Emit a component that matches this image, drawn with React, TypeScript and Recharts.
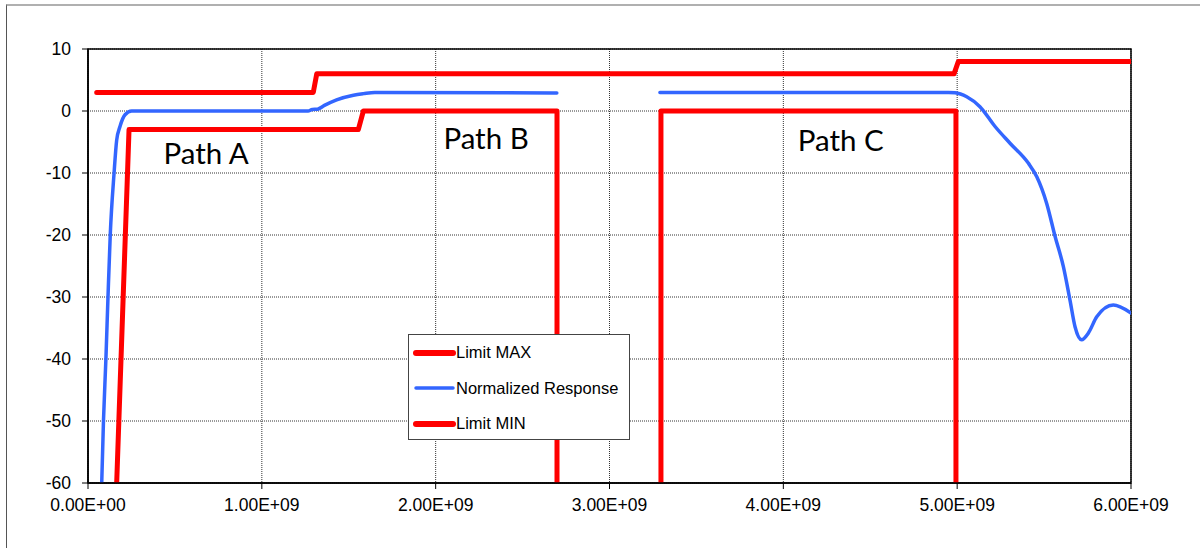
import {
  LineChart,
  Line,
  XAxis,
  YAxis,
  CartesianGrid,
  Legend,
  ReferenceArea,
  ReferenceDot,
} from "recharts";

// x values are in units of 1e9
const limitMaxX = [0.05, 1.296, 1.316, 4.982, 5.007, 6.0];
const limitMaxY = [3, 3, 6, 6, 8, 8];

const limitMinX = [0.165, 0.236, 1.555, 1.584, 2.698, 2.698, 3.0, 3.296, 3.296, 4.993, 4.993];
const limitMinY: (number | null)[] = [-60, -3, -3, 0, 0, -60, null, -60, 0, 0, -60];

const responseX = [
  0.079, 0.089, 0.103, 0.115, 0.128, 0.15, 0.165, 0.184, 0.213, 0.251,
  1.266, 1.29, 1.32, 1.36, 1.43, 1.527, 1.585, 1.65, 2.697,
  3.0,
  3.29, 4.95, 4.988, 5.055, 5.131, 5.218, 5.304, 5.409, 5.458, 5.515,
  5.563, 5.611, 5.649, 5.678, 5.716, 5.755, 5.803, 5.898, 6.0,
];
const responseY: (number | null)[] = [
  -60, -50, -40, -30, -20, -10, -4.7, -2.5, -0.6, 0,
  0, 0.25, 0.3, 0.9, 1.8, 2.55, 2.8, 3.0, 2.9,
  null,
  3, 3, 2.95, 2.3, 0.7, -2.5, -5.2, -8.4, -10.6, -14.9,
  -20.2, -25.1, -30.5, -34.8, -36.9, -35.8, -33.2, -31.3, -32.6,
];

const xTicks = [0, 1, 2, 3, 4, 5, 6].map((v) => v * 1e9);
const yTicks = [10, 0, -10, -20, -30, -40, -50, -60];

const seriesOrder = ["Limit MAX", "Normalized Response", "Limit MIN"];

const pathLabels = [
  { text: "Path A", x: 0.68, y: -6.8 },
  { text: "Path B", x: 2.29, y: -4.4 },
  { text: "Path C", x: 4.33, y: -4.8 },
];

const toRows = (xs: number[], ys: (number | null)[]) =>
  xs.map((x, i) => ({ x: x * 1e9, y: ys[i] }));

const limitMax = toRows(limitMaxX, limitMaxY);
const limitMin = toRows(limitMinX, limitMinY);
const response = toRows(responseX, responseY);

const tickFont = "'Liberation Sans', Arial, sans-serif";

function formatSci(v: number): string {
  const [m, e] = v.toExponential(2).split("e");
  const exp = Number(e);
  const sign = exp < 0 ? "-" : "+";
  return `${m}E${sign}${String(Math.abs(exp)).padStart(2, "0")}`;
}

const legendWidths: Record<string, number> = {
  "Limit MAX": 6,
  "Normalized Response": 3.5,
  "Limit MIN": 6,
};

function LegendBox({ payload }: any) {
  const items = [...(payload || [])].sort(
    (a: any, b: any) => seriesOrder.indexOf(a.value) - seriesOrder.indexOf(b.value)
  );
  return (
    <div
      style={{
        boxSizing: "border-box",
        width: 222,
        height: 106,
        background: "#fff",
        border: "1px solid #444",
        fontFamily: tickFont,
        fontSize: 16.5,
        color: "#000",
      }}
    >
      {items.map((p: any) => (
        <div
          key={p.value}
          style={{ display: "flex", alignItems: "center", height: 35.5 }}
        >
          <svg width={47} height={10} style={{ flexShrink: 0 }}>
            <line
              x1={7}
              x2={44}
              y1={5}
              y2={5}
              stroke={p.color}
              strokeWidth={legendWidths[p.value] ?? 4}
              strokeLinecap="round"
            />
          </svg>
          <span>{p.value}</span>
        </div>
      ))}
    </div>
  );
}

export default function App() {
  return (
    <div
      style={{
        position: "absolute",
        left: 0,
        top: 0,
        width: 1200,
        height: 548,
        background: "#fff",
        overflow: "hidden",
      }}
    >
      {/* chart area frame */}
      <div
        style={{
          position: "absolute",
          left: 6,
          top: 4,
          width: 1200,
          height: 560,
          borderTop: "2px solid #b0b0b0",
          borderLeft: "1px solid #555",
        }}
      />
      <div style={{ position: "absolute", left: 0, top: 0 }}>
        <LineChart
          width={1200}
          height={548}
          margin={{ top: 49, right: 69, bottom: 25, left: 28 }}
        >
          <CartesianGrid stroke="#333" strokeDasharray="1 1" />
          <XAxis
            dataKey="x"
            type="number"
            domain={[0, 6e9]}
            ticks={xTicks}
            tickFormatter={formatSci}
            allowDataOverflow
            height={40}
            tickSize={6}
            tickMargin={10}
            axisLine={{ stroke: "#000", strokeWidth: 1.5 }}
            tickLine={{ stroke: "#000" }}
            tick={{ fill: "#000", fontSize: 17.5, fontFamily: tickFont }}
          />
          <YAxis
            type="number"
            domain={[-60, 10]}
            ticks={yTicks}
            allowDataOverflow
            width={60}
            tickSize={6}
            tickMargin={11}
            axisLine={{ stroke: "#000", strokeWidth: 1.5 }}
            tickLine={{ stroke: "#000" }}
            tick={{ fill: "#000", fontSize: 17.5, fontFamily: tickFont }}
          />
          <ReferenceArea
            x1={0}
            x2={6e9}
            y1={-60}
            y2={10}
            fill="none"
            stroke="#000"
            strokeWidth={1.5}
          />
          <Legend
            layout="vertical"
            align="center"
            verticalAlign="middle"
            content={<LegendBox />}
            wrapperStyle={{ left: 408, top: 334, width: 222, height: 106 }}
          />
          <Line
            data={limitMax}
            dataKey="y"
            name="Limit MAX"
            type="linear"
            stroke="#ff0000"
            strokeWidth={5}
            strokeLinecap="round"
            strokeLinejoin="round"
            dot={false}
            activeDot={false}
            isAnimationActive={false}
          />
          <Line
            data={response}
            dataKey="y"
            name="Normalized Response"
            type="monotone"
            stroke="#3366ff"
            strokeWidth={3.5}
            strokeLinecap="round"
            strokeLinejoin="round"
            dot={false}
            activeDot={false}
            isAnimationActive={false}
          />
          <Line
            data={limitMin}
            dataKey="y"
            name="Limit MIN"
            type="linear"
            stroke="#ff0000"
            strokeWidth={5}
            strokeLinecap="butt"
            strokeLinejoin="round"
            dot={false}
            activeDot={false}
            isAnimationActive={false}
          />
          {pathLabels.map((l) => (
            <ReferenceDot
              key={l.text}
              x={l.x * 1e9}
              y={l.y}
              r={0}
              fill="none"
              stroke="none"
              label={{
                value: l.text,
                position: "center",
                fill: "#000",
                fontSize: 29.5,
                fontFamily: "Lato, 'Open Sans', sans-serif",
              }}
            />
          ))}
        </LineChart>
      </div>
    </div>
  );
}
